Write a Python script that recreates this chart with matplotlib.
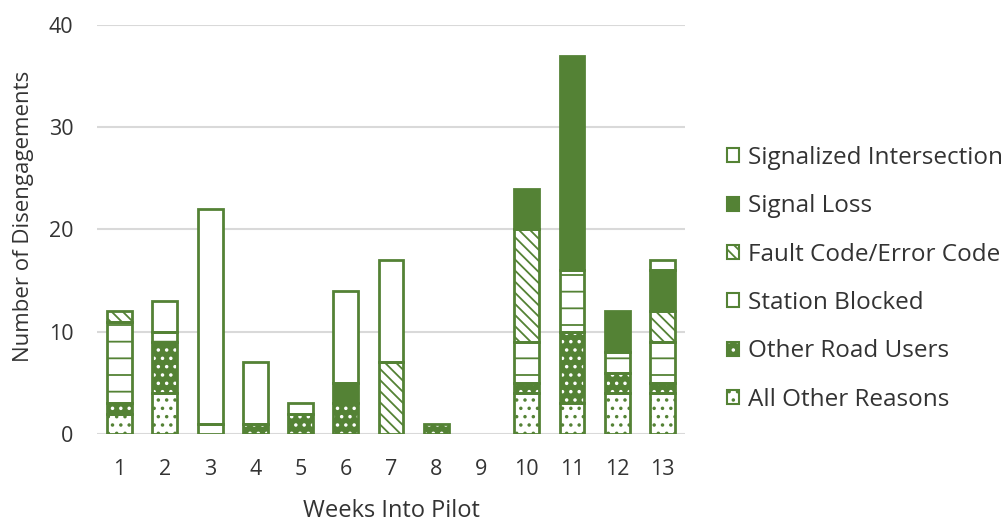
import matplotlib
matplotlib.use("Agg")
import matplotlib.pyplot as plt
import numpy as np
from matplotlib.patches import Patch
from matplotlib.legend_handler import HandlerTuple

plt.rcParams['font.family'] = ['Open Sans', 'DejaVu Sans']
plt.rcParams['hatch.linewidth'] = 1.3

weeks = ['1', '2', '3', '4', '5', '6', '7', '8', '9', '10', '11', '12', '13']
all_other = [2, 4, 0, 0, 0, 0, 0, 0, 0, 4, 3, 4, 4]
other_road_users = [1, 5, 0, 1, 2, 3, 0, 1, 0, 1, 7, 2, 1]
station_blocked = [8, 1, 1, 0, 0, 0, 0, 0, 0, 4, 6, 2, 4]
fault_code = [1, 0, 0, 0, 0, 0, 7, 0, 0, 11, 0, 0, 3]
signal_loss = [0, 0, 0, 0, 0, 2, 0, 0, 0, 4, 21, 4, 4]
signalized = [0, 3, 21, 6, 1, 9, 10, 0, 0, 0, 0, 0, 1]

green = '#548235'
white = '#ffffff'
text_col = '#333333'

# (label, values, face colour, hatch colour, hatch)
series = [
    ('All Other Reasons', all_other, white, green, '..'),
    ('Other Road Users', other_road_users, green, white, '..'),
    ('Station Blocked', station_blocked, white, green, '-'),
    ('Fault Code/Error Code', fault_code, white, green, '\\\\\\'),
    ('Signal Loss', signal_loss, green, green, None),
    ('Signalized Intersection', signalized, white, green, None),
]

fig = plt.figure(figsize=(10.04, 5.23), dpi=100)
ax = fig.add_axes([0.0966, 0.1702, 0.5857, 0.782])

x = np.arange(1, len(weeks) + 1)
width = 0.55
bottom = np.zeros(len(weeks))
handles, labels = [], []
for label, vals, face, hcol, hatch in series:
    vals = np.array(vals, dtype=float)
    mask = vals > 0
    if hatch:
        ax.bar(x[mask], vals[mask], width, bottom=bottom[mask], color=face,
               edgecolor=hcol, linewidth=0, hatch=hatch, zorder=2)
    else:
        ax.bar(x[mask], vals[mask], width, bottom=bottom[mask], color=face,
               linewidth=0, zorder=2)
    ax.bar(x[mask], vals[mask], width, bottom=bottom[mask], fill=False,
           edgecolor=green, linewidth=2, zorder=3)
    bottom += vals
    fill_patch = Patch(facecolor=face, edgecolor=hcol, hatch=hatch, linewidth=0)
    outline = Patch(fill=False, edgecolor=green, linewidth=1.5)
    handles.append((fill_patch, outline))
    labels.append(label)

ax.set_xlim(0.5, len(weeks) + 0.5)
ax.set_ylim(0, 40)
ax.set_yticks([0, 10, 20, 30, 40])
ax.set_xticks(x)
ax.set_xticklabels(weeks)
ax.yaxis.grid(True, color='#d9d9d9', linewidth=1.5, zorder=0)
ax.set_axisbelow(True)
for s in ax.spines.values():
    s.set_visible(False)
ax.tick_params(axis='y', length=0, labelsize=15.5, colors=text_col, pad=17)
ax.tick_params(axis='x', length=0, labelsize=15.5, colors=text_col, pad=18)
ax.set_xlabel('Weeks Into Pilot', fontsize=17, color=text_col)
ax.xaxis.set_label_coords(0.5, -0.158)
ax.set_ylabel('Number of Disengagements', fontsize=16, color=text_col)
ax.yaxis.set_label_coords(-0.107, 0.532)

leg = fig.legend(handles=handles[::-1], labels=labels[::-1], loc='center left',
                 bbox_to_anchor=(0.724, 0.467), frameon=False, fontsize=17.5,
                 handlelength=0.5, handleheight=0.5, handletextpad=0.35,
                 labelspacing=1.0, borderpad=0, borderaxespad=0,
                 handler_map={tuple: HandlerTuple(ndivide=1, pad=0)})
for t in leg.get_texts():
    t.set_color(text_col)

fig.savefig('out.png', dpi=100)
